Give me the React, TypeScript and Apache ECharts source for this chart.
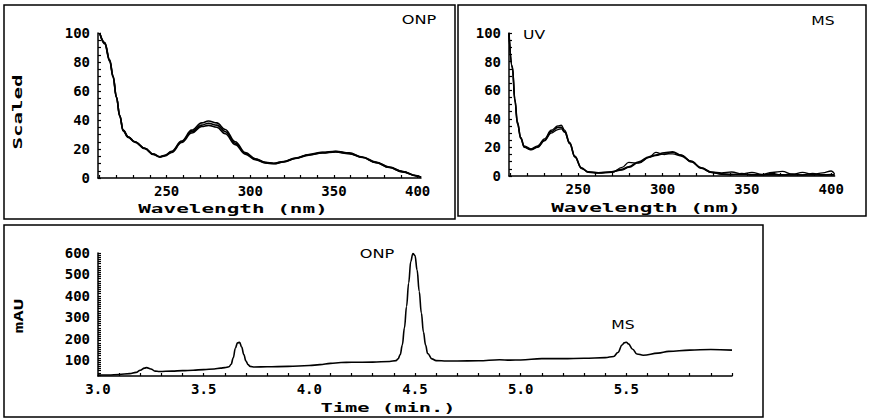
import React, { useEffect, useRef } from "react";
import * as echarts from "echarts";

// ---- ONP UV spectrum (top left) ----
const onpNm = [210,213,216,218,220,222,224,227,231,237,242,246,249,253,259,265,271,275,280,285,291,297,303,309,314,320,327,335,343,351,359,367,375,383,391,399,402];
const onpA = [100,93,81,70,56,43,33,28.5,25,20.5,16.5,14.7,15.5,18,25,32,36.5,37.8,36.5,32,24,17,13,10.6,10,11.2,13.6,16,17.5,18.2,17,14.3,10.8,7.4,4.4,1.6,0.5];
const onpB = [100,93.5,81.5,70.5,56,43,33,28.5,25,20.5,16.5,14.7,15.7,18.5,25.5,33,38,39.3,38,33.5,25,17.5,13.3,10.8,10.2,11.4,13.8,16.2,17.8,18.5,17.3,14.5,11,7.6,4.5,1.7,0.6];
const onpC = [100,92.5,80.5,69.5,55.5,42.5,32.5,28,24.7,20.2,16.2,14.4,15.2,17.6,24.5,31,35.5,36.3,35,30.5,23,16.5,12.7,10.4,9.8,11,13.4,15.8,17.2,17.9,16.8,14.1,10.6,7.2,4.2,1.5,0.4];

// ---- MS UV spectrum (top right) ----
const msNm = [209,211,212.5,214,216,218,222,226,230,234,238,240,242,245,248,252,256,262,270,276,280,286,292,296,301,306,311,317,323,329,335,341,347,353,359,365,371,377,383,389,395,400,402];
const msA = [100,76,53,37,26.5,20.5,18.6,20.5,25,31,34,34,31,22.8,13.5,5.4,3,2.3,3,4.7,6.5,10,13.5,14.7,16.3,17,14.7,10,5.4,2.6,1.6,1.2,1,1,0.8,0.8,0.8,0.7,0.7,0.8,0.8,0.8,0.8];
const msB = [100,77,54,38,27,21,19,21,26,32,35,35.5,32,23.5,14,5.8,2.5,2,2.5,6,9.5,9,13,16.5,15,16.5,14.5,10.5,5.8,2.8,2.2,2.8,1.5,2.5,1.2,2.5,3.2,1.2,2.6,1,2.2,3.5,1.5];
const msC = [99,75,52,36,26,20,18.3,20,24.5,30,32.5,33,30.5,22.5,13.2,5.2,2.8,2.2,2.8,4.2,6,9.5,13,14.3,15.5,15.5,14,10,5.5,2.4,1.2,0.8,1.8,0.6,0.8,1.8,0.6,1.5,0.7,1.8,0.6,1.2,0.6];

// ---- Chromatogram (bottom) ----
const timeMin = [3.00,3.05,3.10,3.15,3.18,3.20,3.22,3.23,3.25,3.27,3.29,3.35,3.40,3.45,3.50,3.55,3.58,3.60,3.62,3.63,3.64,3.65,3.66,3.67,3.68,3.69,3.70,3.71,3.72,3.74,3.80,3.90,4.00,4.05,4.10,4.15,4.20,4.30,4.38,4.41,4.42,4.43,4.44,4.45,4.46,4.47,4.48,4.49,4.50,4.51,4.52,4.53,4.54,4.55,4.56,4.58,4.60,4.65,4.70,4.80,4.90,4.95,5.00,5.10,5.20,5.30,5.40,5.44,5.46,5.48,5.49,5.50,5.51,5.53,5.55,5.58,5.65,5.70,5.80,5.90,6.00];
const mAU = [30,30,32,36,42,52,62,64,58,48,46,48,50,52,55,58,62,64,68,80,110,155,180,182,160,125,95,78,70,67,68,70,74,78,84,88,89,90,93,97,105,125,170,250,350,460,560,598,588,520,420,320,230,170,130,105,97,95,95,96,101,99,100,106,106,108,111,116,135,170,180,183,175,150,128,122,132,140,146,149,146];

// ---- tick labels ----
const nmLabels = [250, 300, 350, 400];
const scaledLabels = [0, 20, 40, 60, 80, 100];
const timeLabels = [3.0, 3.5, 4.0, 4.5, 5.0, 5.5];
const mauLabels = [100, 200, 300, 400, 500, 600];

function range(a: number, b: number, step: number) {
  const out: number[] = [];
  for (let v = a; v <= b + 1e-9; v += step) out.push(Math.round(v * 1000) / 1000);
  return out;
}

const MONO = "DejaVu Sans Mono";

function makeAxis(gridIndex: number, min: number, max: number, labels: number[], ticks: number[], margin: number, fmt?: (v: number) => string) {
  const axisLabel: any = {
    show: true,
    customValues: labels,
    margin,
    color: "#000",
    fontFamily: MONO,
    fontWeight: "bold",
    fontSize: 14,
  };
  if (fmt) axisLabel.formatter = fmt;
  return {
    type: "value",
    gridIndex,
    min,
    max,
    axisLine: { show: true, onZero: false, lineStyle: { color: "#000", width: 1.5 } },
    axisTick: { show: true, inside: true, length: 3, customValues: ticks, lineStyle: { color: "#000", width: 1.2 } },
    axisLabel,
    splitLine: { show: false },
  };
}

function line(xs: number[], ys: number[], axisIdx: number, width = 1.6) {
  return {
    type: "line",
    xAxisIndex: axisIdx,
    yAxisIndex: axisIdx,
    data: xs.map((x, i) => [x, ys[i]]),
    showSymbol: false,
    smooth: 0.4,
    smoothMonotone: "x",
    lineStyle: { color: "#000", width },
    silent: true,
  };
}

function stretchText(text: string, x: number, y: number, scaleX: number, font: string, rotation = 0) {
  return {
    type: "text", x, y, scaleX, rotation,
    style: { text, font, fill: "#000", textAlign: "center", textVerticalAlign: "middle" },
  };
}

function box(x: number, y: number, w: number, h: number) {
  return { type: "rect", shape: { x, y, width: w, height: h }, style: { fill: "none", stroke: "#000", lineWidth: 1.5 } };
}

export default function App() {
  const ref = useRef<HTMLDivElement>(null);
  useEffect(() => {
    if (!ref.current) return;
    const chart = echarts.init(ref.current, null, { renderer: "svg" });
    const nmTicks = range(210, 400, 10);
    const scaledTicks = range(0, 100, 5);
    const timeTicks = range(3.0, 6.0, 0.1);
    const mauTicks = range(30, 600, 10);
    const titleFont = `bold 12px ${MONO}`;
    const annFont = `12px DejaVu Sans`;
    const option: any = {
      animation: false,
      backgroundColor: "#fff",
      grid: [
        { left: 98, top: 33, width: 323, height: 145 },
        { left: 509, top: 33, width: 325.6, height: 143 },
        { left: 98, top: 253, width: 634, height: 123 },
      ],
      xAxis: [
        makeAxis(0, 209, 402, nmLabels, nmTicks, 6),
        makeAxis(1, 209, 402, nmLabels, nmTicks, 6),
        makeAxis(2, 3.0, 6.0, timeLabels, timeTicks, 6, (v: number) => v.toFixed(1)),
      ],
      yAxis: [
        makeAxis(0, 0, 100, scaledLabels, scaledTicks, 8),
        makeAxis(1, 0, 100, scaledLabels, scaledTicks, 8),
        makeAxis(2, 25, 600, mauLabels, mauTicks, 8),
      ],
      series: [
        line(onpNm, onpA, 0),
        line(onpNm, onpB, 0),
        line(onpNm, onpC, 0),
        line(msNm, msA, 1),
        line(msNm, msB, 1, 1.3),
        line(msNm, msC, 1, 1.3),
        line(timeMin, mAU, 2, 1.6),
      ],
      graphic: [
        box(4, 5, 451, 214),
        box(458, 5, 408, 211),
        box(4, 225, 759, 192),
        stretchText("Wavelength (nm)", 233, 209, 1.75, titleFont),
        stretchText("Wavelength (nm)", 646, 208, 1.75, titleFont),
        stretchText("Time (min.)", 388, 408, 1.7, titleFont),
        stretchText("Scaled", 18, 112, 1.73, titleFont, Math.PI / 2),
        stretchText("mAU", 19, 316, 1.6, titleFont, Math.PI / 2),
        stretchText("ONP", 419, 20, 1.35, annFont),
        stretchText("MS", 823, 21, 1.3, annFont),
        stretchText("UV", 534, 35, 1.3, annFont),
        stretchText("ONP", 377, 254, 1.35, annFont),
        stretchText("MS", 623, 325, 1.3, annFont),
      ],
    };
    chart.setOption(option);
    return () => chart.dispose();
  }, []);
  return (
    <div
      ref={ref}
      style={{ position: "fixed", left: 0, top: 0, width: 870, height: 418, background: "#fff" }}
    />
  );
}
